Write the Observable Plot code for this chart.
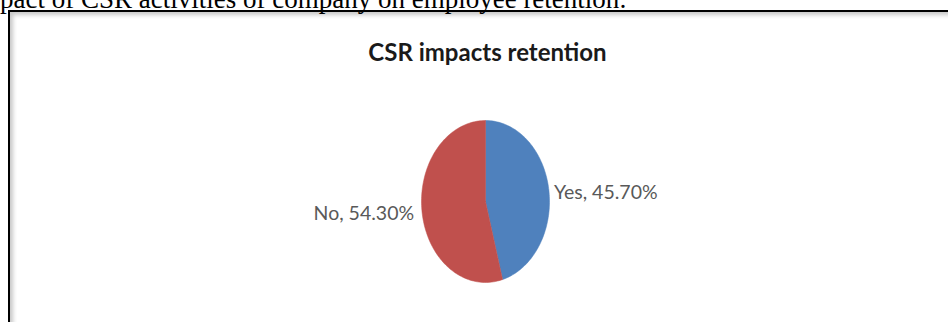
<!DOCTYPE html>
<html><head><meta charset="utf-8">
<script src="https://cdn.jsdelivr.net/npm/d3@7"></script>
<script src="https://cdn.jsdelivr.net/npm/@observablehq/plot@0.6"></script>
<style>
html,body{margin:0;padding:0;background:#fff;width:948px;height:322px;overflow:hidden;}
#wrap{position:relative;width:948px;height:322px;overflow:hidden;}
#caption{position:absolute;left:0;top:-14px;font-family:"Liberation Serif","Times New Roman",serif;font-size:27px;white-space:nowrap;color:#000;line-height:1;}
#frame{position:absolute;left:8px;top:10px;width:960px;height:330px;border:2px solid #000;box-shadow:inset 3px 3px 4px rgba(0,0,0,0.22);}
#chart{position:absolute;left:0;top:0;}
</style></head>
<body>
<div id="wrap">
  <div id="caption">pact of CSR activities of company on employee retention:</div>
  <div id="frame"></div>
  <div id="chart"></div>
</div>
<script>
const title = "CSR impacts retention";
const categories = ["Yes", "No"];
const values = [45.70, 54.30];
const labels = ["Yes, 45.70%", "No, 54.30%"];
const colors = ["#4F81BD", "#C0504D"];

// slice angles (clockwise from 12 o'clock) from d3.pie
const arcs = d3.pie().sort(null).value(d => d)(values);
const slicePts = [];
arcs.forEach((a, i) => {
  const n = 120;
  slicePts.push({cat: categories[i], k: 0, x: 0, y: 0});
  for (let j = 0; j <= n; j++) {
    const t = a.startAngle + (a.endAngle - a.startAngle) * j / n;
    slicePts.push({cat: categories[i], k: j + 1, x: Math.sin(t), y: Math.cos(t)});
  }
  slicePts.push({cat: categories[i], k: n + 2, x: 0, y: 0});
});
const labelPts = arcs.map((a, i) => {
  const m = (a.startAngle + a.endAngle) / 2;
  return {cat: categories[i], label: labels[i], x: Math.sin(m), y: Math.cos(m), side: Math.sin(m) >= 0 ? 1 : -1};
});

const font = "Lato, 'Open Sans', sans-serif";
const chart = Plot.plot({
  width: 948,
  height: 322,
  margin: 0,
  style: {background: "transparent", overflow: "visible"},
  x: {domain: [-1, 1], range: [421, 549], axis: null},
  y: {domain: [-1, 1], range: [282, 120], axis: null},
  color: {domain: categories, range: colors},
  marks: [
    Plot.line(slicePts, {x: "x", y: "y", z: "cat", fill: "cat", stroke: "cat", strokeWidth: 0.5, curve: "linear-closed"}),
    Plot.text(labelPts.filter(d => d.side > 0), {x: "x", y: "y", text: "label", textAnchor: "start", dx: 5, dy: 2, fill: "#595959", fontSize: 19.5, fontFamily: font}),
    Plot.text(labelPts.filter(d => d.side < 0), {x: "x", y: "y", text: "label", textAnchor: "end", dx: -8, dy: 1, fill: "#595959", fontSize: 19.5, fontFamily: font}),
    Plot.text([title], {frameAnchor: "top", dx: 13, dy: 43, text: d => d, fontSize: 24, fontWeight: "bold", fill: "#1a1a1a", fontFamily: font, lineAnchor: "top"})
  ]
});
document.getElementById("chart").appendChild(chart);
</script>
</body></html>
